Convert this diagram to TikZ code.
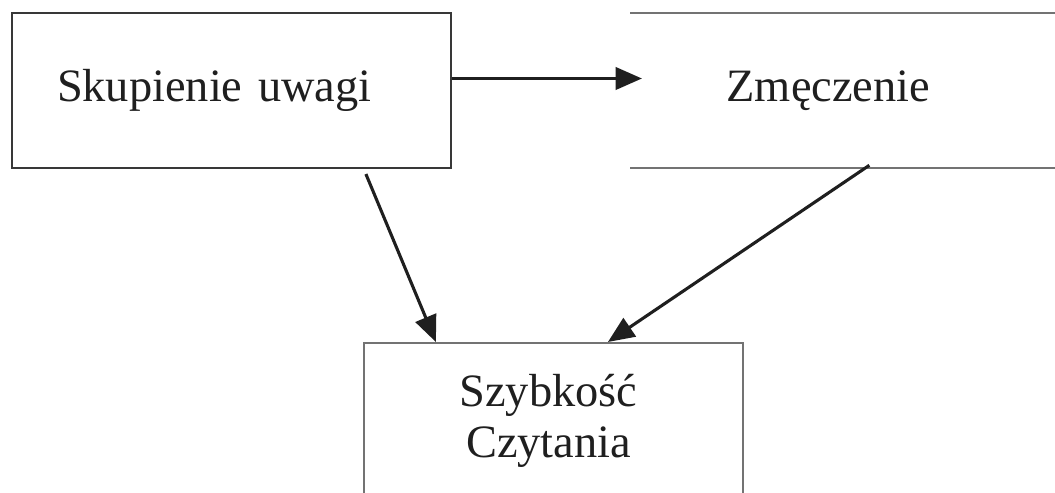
\documentclass[tikz,border=0pt]{standalone}
\usepackage{fontspec}
\setmainfont{Liberation Serif}
\usetikzlibrary{arrows.meta}
\usetikzlibrary{positioning}

\begin{document}
\begin{tikzpicture}[
  box/.style={rectangle,inner sep=0pt,font=\fontsize{33}{36}\selectfont,text=black!88,align=center},
  edge/.style={draw=black!55,line width=1.4pt},
  arr/.style={draw=black!88,line width=2.2pt,-{Triangle[length=0.66cm,width=0.55cm]}},
  fatarr/.style={arr,line width=2.8pt}
]
\clip (0,0) rectangle (26.375,12.325);
\node[box,draw=black!78,line width=1.5pt,minimum width=10.975cm,minimum height=3.875cm,text width=8.725cm,inner xsep=1.125cm,align=left] (focus) at (5.7875,10.0625) {Skupienie uwagi};
\node[box,minimum width=9.9cm,minimum height=3.875cm,right=4.45cm of focus] (fatigue) {Zmęczenie};
\node[box,edge,minimum width=9.475cm,minimum height=3.9cm] (speed) at (13.8375,1.8) {\hspace*{-0.25cm}Szybkość\\\hspace*{-0.25cm}Czytania};

\draw[edge] (fatigue.north west) -- ([xshift=0.75cm]fatigue.north east);
\draw[edge] (fatigue.south west) -- ([xshift=0.75cm]fatigue.south east);

\draw[fatarr] ([yshift=0.3cm]focus.east) -- ([xshift=0.3cm,yshift=0.3cm]fatigue.west);
\draw[arr] ([xshift=3.36cm,yshift=-0.125cm]focus.south) -- ([xshift=-2.94cm]speed.north);
\draw[arr] ([xshift=1.025cm,yshift=0.075cm]fatigue.south) -- ([xshift=1.36cm]speed.north);

\end{tikzpicture}
\end{document}
